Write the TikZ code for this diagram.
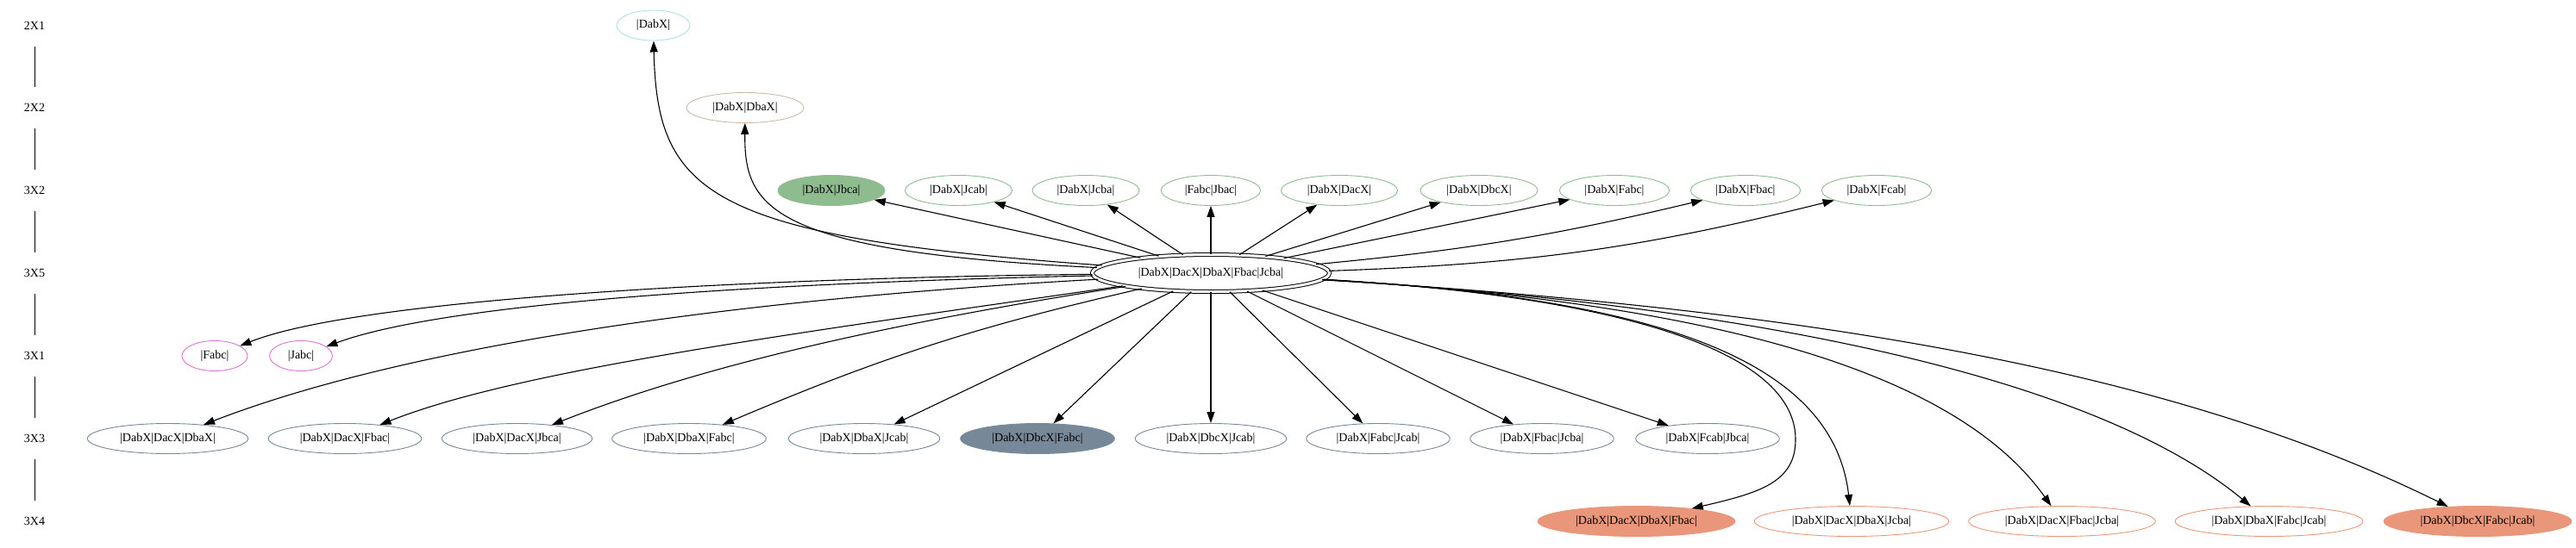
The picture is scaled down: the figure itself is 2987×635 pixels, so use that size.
\documentclass[tikz,border=0pt]{standalone}
\usepackage{fontspec}
\setmainfont{Liberation Serif}
\usetikzlibrary{shapes.geometric,arrows.meta}
\definecolor{powder}{RGB}{176,224,230}
\definecolor{beige}{RGB}{205,186,168}
\definecolor{seagreen}{RGB}{143,188,143}
\definecolor{orchidring}{RGB}{222,112,218}
\definecolor{slate}{RGB}{119,136,153}
\definecolor{salmon}{RGB}{233,150,122}
\tikzset{
    >={Triangle[length=13pt,width=9pt]},
    statenode/.style={
        ellipse,
        draw, line width=0.9pt,
        inner xsep=10.5pt,
        inner ysep=3pt,
        minimum height=35pt,
        font=\fontsize{14}{16}\selectfont
    },
    hubnode/.style={
        ellipse,
        draw, double, double distance=3pt, line width=1pt,
        inner xsep=13pt,
        minimum height=43pt,
        font=\fontsize{14}{16}\selectfont
    },
    rankname/.style={inner sep=0pt, minimum height=48pt, font=\fontsize{14}{16}\selectfont},
    rankA/.style={statenode, draw=powder},
    rankB/.style={statenode, draw=beige},
    rankC/.style={statenode, draw=seagreen},
    rankD/.style={statenode, draw=orchidring},
    rankE/.style={statenode, draw=slate},
    rankF/.style={statenode, draw=salmon},
    succ/.style={->, line width=1.1pt},
    rankline/.style={line width=1pt}
}
\begin{document}
\begin{tikzpicture}[x=1pt, y=-1pt]
\useasboundingbox (0,0) rectangle (2987,635);
% rank names
\node[rankname] (r21) at (40,29.5) {2X1};
\node[rankname] (r22) at (40,125) {2X2};
\node[rankname] (r32) at (40,221) {3X2};
\node[rankname] (r35) at (40,317) {3X5};
\node[rankname] (r31) at (40,413) {3X1};
\node[rankname] (r33) at (40,509) {3X3};
\node[rankname] (r34) at (40,605) {3X4};
\draw[rankline] (r21) -- (r22);
\draw[rankline] (r22) -- (r32);
\draw[rankline] (r32) -- (r35);
\draw[rankline] (r35) -- (r31);
\draw[rankline] (r31) -- (r33);
\draw[rankline] (r33) -- (r34);
% 2X1, 2X2
\node[rankA] (DabX) at (757.5,29.5) {|DabX|};
\node[rankB] (DabXDbaX) at (864,125) {|DabX|DbaX|};
% 3X2
\node[rankC, fill=seagreen] (DabXJbca) at (964,221) {|DabX|Jbca|};
\node[rankC] (DabXJcab) at (1111.5,221) {|DabX|Jcab|};
\node[rankC] (DabXJcba) at (1259,221) {|DabX|Jcba|};
\node[rankC] (FabcJbac) at (1404,221) {|Fabc|Jbac|};
\node[rankC] (DabXDacX) at (1553,221) {|DabX|DacX|};
\node[rankC] (DabXDbcX) at (1715,221) {|DabX|DbcX|};
\node[rankC] (DabXFabc) at (1872,221) {|DabX|Fabc|};
\node[rankC] (DabXFbac) at (2024,221) {|DabX|Fbac|};
\node[rankC] (DabXFcab) at (2176,221) {|DabX|Fcab|};
% 3X5
\node[hubnode] (hub) at (1404,317) {|DabX|DacX|DbaX|Fbac|Jcba|};
% 3X1
\node[rankD] (Fabc) at (249,413) {|Fabc|};
\node[rankD] (Jabc) at (349,413) {|Jabc|};
% 3X3
\node[rankE] (DacXDbaX) at (194.5,509) {|DabX|DacX|DbaX|};
\node[rankE] (DacXFbac) at (400,509) {|DabX|DacX|Fbac|};
\node[rankE] (DacXJbca) at (599.5,509) {|DabX|DacX|Jbca|};
\node[rankE] (DbaXFabc) at (799,509) {|DabX|DbaX|Fabc|};
\node[rankE] (DbaXJcab) at (1002,509) {|DabX|DbaX|Jcab|};
\node[rankE, fill=slate] (DbcXFabc) at (1203,509) {|DabX|DbcX|Fabc|};
\node[rankE] (DbcXJcab) at (1404,509) {|DabX|DbcX|Jcab|};
\node[rankE] (FabcJcab) at (1598,509) {|DabX|Fabc|Jcab|};
\node[rankE] (FbacJcba) at (1788,509) {|DabX|Fbac|Jcba|};
\node[rankE] (FcabJbca) at (1980,509) {|DabX|Fcab|Jbca|};
% 3X4
\node[rankF, fill=salmon] (DacXDbaXFbac) at (1897.5,605) {|DabX|DacX|DbaX|Fbac|};
\node[rankF] (DacXDbaXJcba) at (2147,605) {|DabX|DacX|DbaX|Jcba|};
\node[rankF] (DacXFbacJcba) at (2391,605) {|DabX|DacX|Fbac|Jcba|};
\node[rankF] (DbaXFabcJcab) at (2631,605) {|DabX|DbaX|Fabc|Jcab|};
\node[rankF, fill=salmon] (DbcXFabcJcab) at (2873,605) {|DabX|DbcX|Fabc|Jcab|};
\coordinate (loopR) at (2082,510);
% upwards
\draw[succ] (hub) .. controls (820,275) and (762,225) .. (DabX);
\draw[succ] (hub) .. controls (890,292) and (863,240) .. (DabXDbaX);
\draw[succ] (hub) -- (DabXJbca);
\draw[succ] (hub) -- (DabXJcab);
\draw[succ] (hub) -- (DabXJcba);
\draw[succ] (hub) -- (FabcJbac);
\draw[succ] (hub) -- (DabXDacX);
\draw[succ] (hub) -- (DabXDbcX);
\draw[succ] (hub) -- (DabXFabc);
\draw[succ] (hub) to[bend right=4] (DabXFbac);
\draw[succ] (hub) to[bend right=6] (DabXFcab);
% downwards
\draw[succ] (hub) .. controls (900,322) and (420,345) .. (Fabc);
\draw[succ] (hub) .. controls (900,328) and (520,350) .. (Jabc);
\draw[succ] (hub) .. controls (800,350) and (450,410) .. (DacXDbaX);
\draw[succ] (hub) .. controls (900,390) and (600,430) .. (DacXFbac);
\draw[succ] (hub) .. controls (1000,380) and (800,430) .. (DacXJbca);
\draw[succ] (hub) to[bend right=5] (DbaXFabc);
\draw[succ] (hub) -- (DbaXJcab);
\draw[succ] (hub) -- (DbcXFabc);
\draw[succ] (hub) -- (DbcXJcab);
\draw[succ] (hub) -- (FabcJcab);
\draw[succ] (hub) -- (FbacJcba);
\draw[succ] (hub) -- (FcabJbca);
\draw[succ] (hub) .. controls (1850,342) and (2082,400) .. (loopR)
                  .. controls (2082,560) and (2040,572) .. (DacXDbaXFbac);
\draw[succ] (hub) .. controls (1900,345) and (2125,410) .. (DacXDbaXJcba);
\draw[succ] (hub) .. controls (1950,349) and (2260,420) .. (DacXFbacJcba);
\draw[succ] (hub) .. controls (2000,352) and (2420,430) .. (DbaXFabcJcab);
\draw[succ] (hub) .. controls (2100,359) and (2520,430) .. (DbcXFabcJcab);
\end{tikzpicture}
\end{document}
